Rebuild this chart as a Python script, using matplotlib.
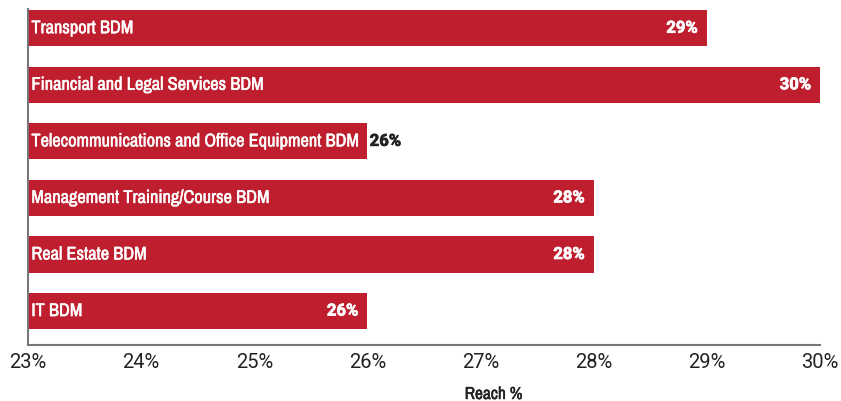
import matplotlib.pyplot as plt
import matplotlib.patheffects as pe
from matplotlib import font_manager

categories = [
    "Transport BDM",
    "Financial and Legal Services BDM",
    "Telecommunications and Office Equipment BDM",
    "Management Training/Course BDM",
    "Real Estate BDM",
    "IT BDM",
]
reach = [29, 30, 26, 28, 28, 26]
value_labels = ["29%", "30%", "26%", "28%", "28%", "26%"]
inside = [True, True, False, True, True, True]
x_ticks = [23, 24, 25, 26, 27, 28, 29, 30]
x_tick_labels = ["23%", "24%", "25%", "26%", "27%", "28%", "29%", "30%"]

# pick a condensed face if one is installed
names = sorted({f.name for f in font_manager.fontManager.ttflist})
condensed = [n for n in names if "Condensed" in n or "Narrow" in n]
narrow = condensed[0] if condensed else "Liberation Sans"

RED = "#BE1E2D"
DARK = "#222222"
XMIN = 23

fig = plt.figure(figsize=(8.41, 4.02), dpi=100)
ax = fig.add_axes([28 / 841, 56 / 402, (820 - 28) / 841, (346 - 10) / 402])

ypos = list(range(len(categories)))
widths = [v - XMIN for v in reach]
ax.barh(ypos, widths, left=XMIN, height=0.64, color=RED)

# the condensed face has no bold, so thicken it a little with a stroke
heavy_white = [pe.withStroke(linewidth=0.35, foreground="white")]
heavy_dark = [pe.withStroke(linewidth=0.35, foreground=DARK)]
bold_white = [pe.withStroke(linewidth=0.5, foreground="white")]
bold_dark = [pe.withStroke(linewidth=0.5, foreground=DARK)]

name_size = 13.2 if condensed else 10.5
for y, name, v, lab, ins in zip(ypos, categories, reach, value_labels, inside):
    ax.text(XMIN + 0.03, y, name, color="white", va="center", ha="left",
            fontsize=name_size, family=narrow, path_effects=heavy_white)
    if ins:
        ax.text(v - 0.08, y, lab, color="white", va="center", ha="right",
                fontsize=12, fontweight="bold", family="Roboto",
                path_effects=bold_white)
    else:
        ax.text(v + 0.02, y, lab, color=DARK, va="center", ha="left",
                fontsize=12, fontweight="bold", family="Roboto",
                path_effects=bold_dark)

ax.set_xlim(XMIN, 30)
ax.set_ylim(5.6, -0.34)
ax.set_yticks([])
ax.set_xticks(x_ticks)
ax.set_xticklabels(x_tick_labels, fontsize=14.5, family="Roboto", color=DARK)
ax.tick_params(axis="x", length=0, pad=5)
ax.set_xlabel("Reach %", fontsize=12.5, family=narrow, color=DARK,
              path_effects=heavy_dark)
ax.xaxis.set_label_coords(0.588, -0.125)

for side in ["top", "right"]:
    ax.spines[side].set_visible(False)
for side in ["left", "bottom"]:
    ax.spines[side].set_color("#777777")
    ax.spines[side].set_linewidth(1.5)

fig.savefig("out.png", dpi=100)
